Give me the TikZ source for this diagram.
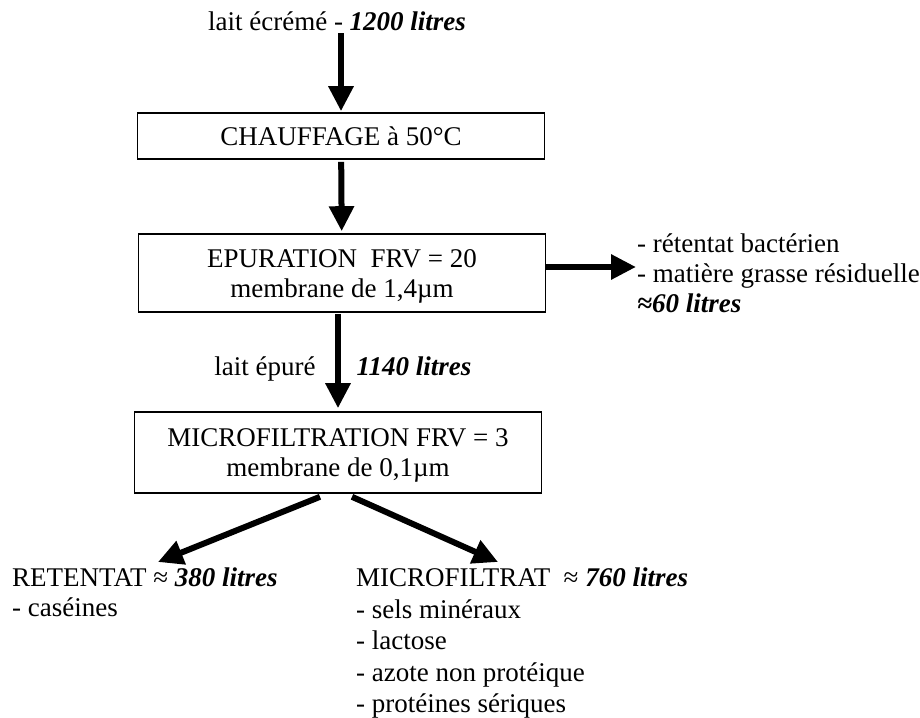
\documentclass[tikz,border=0pt]{standalone}
\usepackage{fontspec}
\setmainfont{Liberation Serif}
\usetikzlibrary{arrows.meta}

\tikzset{
  etape/.style={draw, line width=1.6pt, minimum width=407pt, align=center, inner sep=0pt},
  fleche/.style={line width=6pt, -{Triangle[length=25pt,width=24pt]}},
  liste/.style={align=left, inner sep=0pt, anchor=north west},
}
\newcommand{\lit}[1]{\textbf{\textit{#1}}}
\newcommand{\haut}{\rule{0pt}{24pt}}

\begin{document}
\begin{tikzpicture}[x=1pt,y=-1pt,font=\fontsize{27}{30}\selectfont]
\useasboundingbox (0,0) rectangle (920,717);

% Etapes

\node[anchor=base, inner sep=2pt] (lait) at (337,31) {lait écrémé - \lit{1200 litres}};
\node[etape, minimum height=46pt] (chauf) at (341,136) {CHAUFFAGE à 50°C};
\node[etape, minimum height=78pt] (epur) at (342,273) {\haut EPURATION\ \ FRV = 20\\membrane de 1,4µm};
\node[etape, minimum height=81pt] (micro) at (338,452.5) {\haut MICROFILTRATION FRV = 3\\membrane de 0,1µm};

\draw[fleche, shorten >=1pt] (chauf.north |- lait.south) -- (chauf.north);
\draw[fleche, shorten <=2pt, shorten >=2pt] (chauf) -- (epur);
\draw[fleche, shorten <=1pt, shorten >=3pt] (micro.north |- epur.south) -- (micro.north);

\node[anchor=base east] (epure) at (319,375) {lait épuré};
\node[anchor=base west] (vol) at (353,375) {\lit{1140 litres}};

% Sorties

\node[liste] (residu) at (637,234) {- rétentat bactérien\\- matière grasse résiduelle\\\lit{≈60 litres}};
\draw[fleche, shorten >=1pt] ([yshift=6pt]epur.east) -- ([yshift=6pt]epur.east -| residu.west);

\node[liste] (reten) at (12,568) {RETENTAT ≈ \lit{380 litres}\\- caséines};
\node[liste, font=\fontsize{27}{31.5}\selectfont] (filtrat) at (356,568) {MICROFILTRAT\ \ ≈ \lit{760 litres}\\- sels minéraux\\- lactose\\- azote non protéique\\- protéines sériques};

\coordinate (g) at (158,562);
\coordinate (d) at (498,562);
\draw[fleche] ([xshift=-18pt,yshift=-3pt]micro.south) -- (g);
\draw[fleche] ([xshift=14pt,yshift=-3pt]micro.south) -- (d);

\end{tikzpicture}
\end{document}
